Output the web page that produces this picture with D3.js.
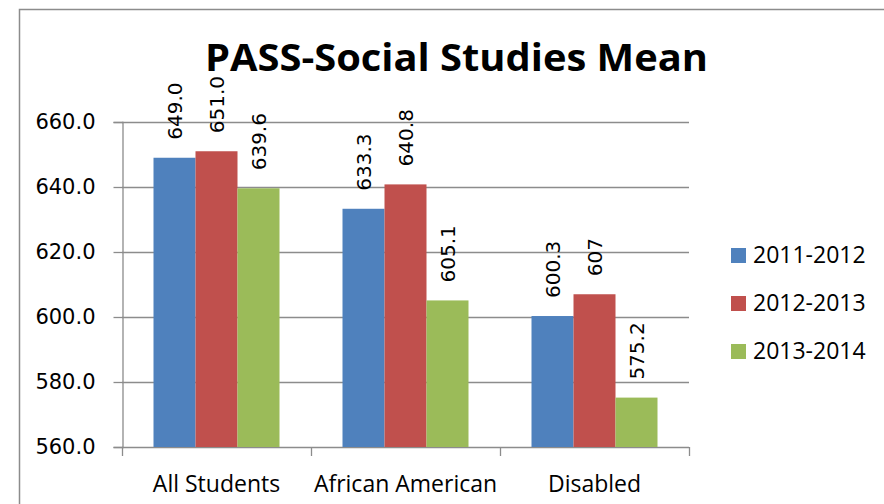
<!DOCTYPE html>
<html>
<head>
<meta charset="utf-8">
<script src="https://cdn.jsdelivr.net/npm/d3@7"></script>
<style>
  html, body { margin: 0; padding: 0; background: #fff; }
</style>
</head>
<body>
<div id="chart"></div>
<script>
// chart data
const categories = ["All Students", "African American", "Disabled"];
const seriesNames = ["2011-2012", "2012-2013", "2013-2014"];
const values2011 = [649.0, 633.3, 600.3];
const values2012 = [651.0, 640.8, 607.0];
const values2013 = [639.6, 605.1, 575.2];
const labels2011 = ["649.0", "633.3", "600.3"];
const labels2012 = ["651.0", "640.8", "607"];
const labels2013 = ["639.6", "605.1", "575.2"];
const yTicks = [560, 580, 600, 620, 640, 660];
const colors = ["#4F81BD", "#C0504D", "#9BBB59"];

const seriesValues = [values2011, values2012, values2013];
const seriesLabels = [labels2011, labels2012, labels2013];

const width = 884, height = 504;

const svg = d3.select("#chart")
  .append("svg")
  .attr("width", width)
  .attr("height", height)
  .style("display", "block");

// outer chart border (runs off the right and bottom)
svg.append("path")
  .attr("d", "M19.5,520 L19.5,9.5 L900,9.5")
  .attr("fill", "none")
  .attr("stroke", "#8c8c8c")
  .attr("stroke-width", 1.5);

// scales
const y = d3.scaleLinear()
  .domain([560, 660])
  .range([447, 122]);

const x = d3.scaleBand()
  .domain(categories)
  .range([122, 689])
  .paddingInner(1 / 3)
  .paddingOuter(1 / 6);

const x1 = d3.scaleBand()
  .domain(seriesNames)
  .range([0, x.bandwidth()]);

// gridlines
svg.append("g")
  .selectAll("line")
  .data(yTicks.slice(1))
  .enter()
  .append("line")
  .attr("x1", 122)
  .attr("x2", 689)
  .attr("y1", d => Math.round(y(d)) + 0.5)
  .attr("y2", d => Math.round(y(d)) + 0.5)
  .attr("stroke", "#8c8c8c")
  .attr("stroke-width", 1.3);

// y axis
const yAxis = svg.append("g")
  .attr("transform", "translate(122.5,0)")
  .call(d3.axisLeft(y).tickValues(yTicks).tickSize(9).tickPadding(18).tickFormat(d3.format(".1f")));

yAxis.select(".domain").attr("stroke", "#8c8c8c").attr("stroke-width", 1.3);
yAxis.selectAll(".tick line").attr("stroke", "#8c8c8c").attr("stroke-width", 1.3);
yAxis.selectAll(".tick text")
  .attr("fill", "#000")
  .style("font-family", "'DejaVu Sans', Verdana, sans-serif")
  .style("font-size", "21px");

// x axis baseline and category separators
const xAxis = svg.append("g");
xAxis.append("line")
  .attr("x1", 122)
  .attr("x2", 689)
  .attr("y1", y(560) + 0.5)
  .attr("y2", y(560) + 0.5)
  .attr("stroke", "#8c8c8c")
  .attr("stroke-width", 1.3);

const edges = categories.map(c => x(c) - x.step() * x.paddingInner() / 2);
edges.push(x.range()[1]);
xAxis.selectAll(".sep")
  .data(edges)
  .enter()
  .append("line")
  .attr("x1", d => Math.round(d) + 0.5)
  .attr("x2", d => Math.round(d) + 0.5)
  .attr("y1", y(560))
  .attr("y2", y(560) + 9)
  .attr("stroke", "#8c8c8c")
  .attr("stroke-width", 1.3);

xAxis.selectAll(".cat")
  .data(categories)
  .enter()
  .append("text")
  .attr("x", d => x(d) + x.bandwidth() / 2)
  .attr("y", 492)
  .attr("text-anchor", "middle")
  .style("font-family", "'Open Sans', sans-serif")
  .style("font-size", "23px")
  .text(d => d);

// bars
seriesNames.forEach(function (name, si) {
  const g = svg.append("g");
  g.selectAll("rect")
    .data(categories)
    .enter()
    .append("rect")
    .attr("x", d => x(d) + x1(name))
    .attr("y", (d, i) => y(seriesValues[si][i]))
    .attr("width", x1.bandwidth())
    .attr("height", (d, i) => y(560) - y(seriesValues[si][i]))
    .attr("fill", colors[si]);

  // rotated value labels
  g.selectAll("text")
    .data(categories)
    .enter()
    .append("text")
    .attr("transform", (d, i) => {
      const cx = x(d) + x1(name) + x1.bandwidth() / 2 + 7;
      const cy = y(seriesValues[si][i]) - 18;
      return "translate(" + cx + "," + cy + ") rotate(-90)";
    })
    .attr("text-anchor", "start")
    .style("font-family", "'DejaVu Sans', Verdana, sans-serif")
    .style("font-size", "20px")
    .text((d, i) => seriesLabels[si][i]);
});

// title
svg.append("text")
  .attr("x", 205)
  .attr("y", 71)
  .attr("textLength", 503)
  .attr("lengthAdjust", "spacingAndGlyphs")
  .style("font-family", "'Open Sans', sans-serif")
  .style("font-weight", "bold")
  .style("font-size", "37px")
  .text("PASS-Social Studies Mean");

// legend
const legend = svg.append("g");
seriesNames.forEach(function (name, i) {
  const ly = 248 + i * 48;
  legend.append("rect")
    .attr("x", 731)
    .attr("y", ly)
    .attr("width", 15)
    .attr("height", 15)
    .attr("fill", colors[i]);
  legend.append("text")
    .attr("x", 753)
    .attr("y", ly + 15)
    .style("font-family", "'Open Sans', sans-serif")
    .style("font-size", "23px")
    .text(name);
});
</script>
</body>
</html>
